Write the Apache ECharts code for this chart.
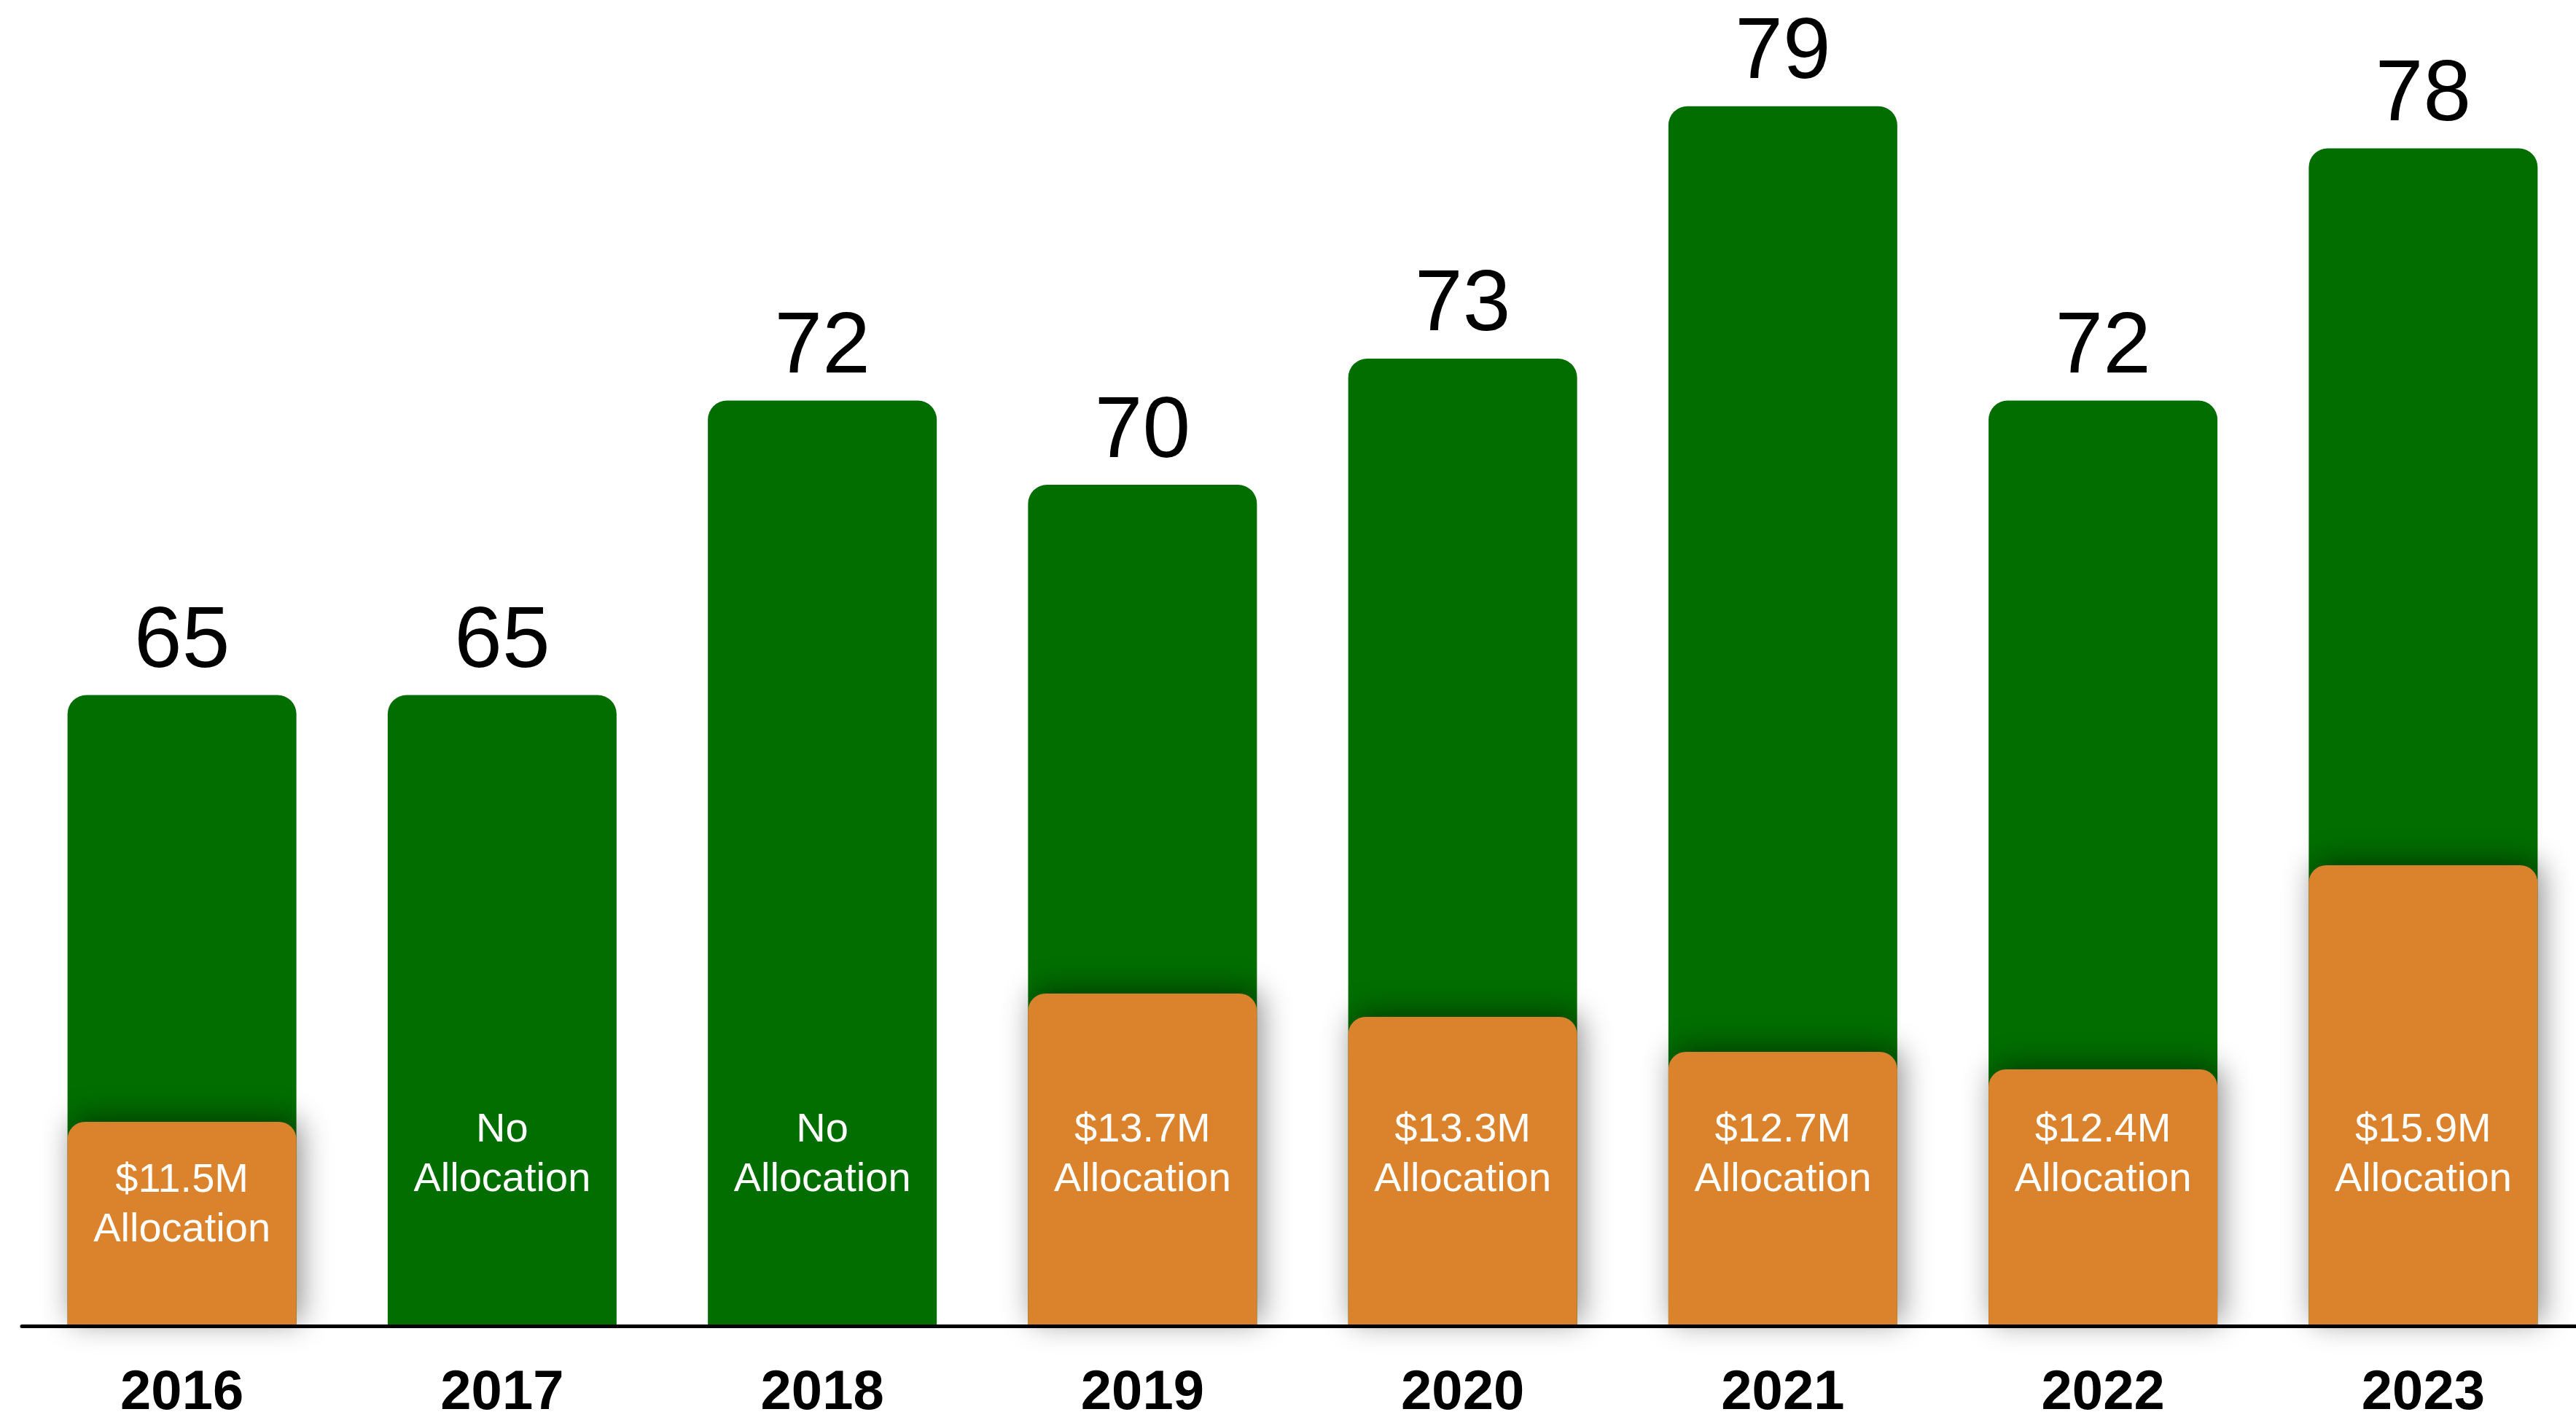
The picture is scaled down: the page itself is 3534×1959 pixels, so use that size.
<!DOCTYPE html>
<html>
<head>
<meta charset="utf-8">
<script src="https://cdn.jsdelivr.net/npm/echarts@6/dist/echarts.min.js"></script>
<style>
html,body{margin:0;padding:0;background:#fff;}
#chart{width:3534px;height:1959px;}
</style>
</head>
<body>
<div id="chart"></div>
<script>
// ---- data ----
const years = ['2016', '2017', '2018', '2019', '2020', '2021', '2022', '2023'];
const scores = [65, 65, 72, 70, 73, 79, 72, 78];
// allocation in $ millions (null = no allocation)
const allocations = [11.5, null, null, 13.7, 13.3, 12.7, 12.4, 15.9];
const noAllocationText = 'No\nAllocation';

const FONT = '"Liberation Sans", Arial, Helvetica, sans-serif';

function allocLabel(i) {
  const a = allocations[i];
  return a == null ? noAllocationText : '$' + a.toFixed(1) + 'M\nAllocation';
}

// overlay (label-only) data; short orange bar gets its label lower
const overlayData = scores.map((v, i) => ({
  value: v,
  label: { distance: (allocations[i] != null && allocations[i] < 12) ? 97 : 166 }
}));

const chart = echarts.init(document.getElementById('chart'), null, { renderer: 'canvas' });
chart.setOption({
  animation: false,
  backgroundColor: '#ffffff',
  grid: { left: 30, top: 88, width: 3514, height: 1731, containLabel: false, outerBoundsMode: 'none' },
  xAxis: {
    type: 'category',
    data: years,
    axisLine: { show: true, lineStyle: { color: '#000', width: 5 } },
    axisTick: { show: false },
    axisLabel: {
      color: '#000', fontFamily: FONT, fontWeight: 'bold', fontSize: 76,
      lineHeight: 76, margin: 55
    },
    z: 10
  },
  yAxis: [
    { type: 'value', min: 50, max: 80, show: false, splitLine: { show: false } },
    { type: 'value', min: 8, max: 8 + 1731 / 80, show: false, splitLine: { show: false } }
  ],
  series: [
    {
      name: 'Score',
      type: 'bar',
      yAxisIndex: 0,
      data: scores,
      barWidth: 314,
      barGap: '-100%',
      z: 2,
      itemStyle: { color: '#026E00', borderRadius: [26, 26, 0, 0] },
      label: {
        show: true, position: 'top', distance: 12,
        color: '#000', fontFamily: FONT, fontSize: 118, lineHeight: 118
      }
    },
    {
      name: 'Allocation',
      type: 'bar',
      yAxisIndex: 1,
      data: allocations,
      barWidth: 314,
      barGap: '-100%',
      z: 3,
      itemStyle: {
        color: '#DB832C',
        borderRadius: [24, 24, 0, 0],
        shadowBlur: 40,
        shadowColor: 'rgba(0,0,0,0.45)',
        shadowOffsetX: 6,
        shadowOffsetY: -6
      }
    },
    {
      name: 'Labels',
      type: 'bar',
      yAxisIndex: 0,
      data: overlayData,
      barWidth: 314,
      barGap: '-100%',
      z: 4,
      silent: true,
      itemStyle: { color: 'rgba(0,0,0,0)' },
      label: {
        show: true,
        position: 'insideBottom',
        formatter: (p) => allocLabel(p.dataIndex),
        color: '#fff', fontFamily: FONT, fontSize: 56, lineHeight: 68,
        align: 'center'
      }
    }
  ]
});
</script>
</body>
</html>
